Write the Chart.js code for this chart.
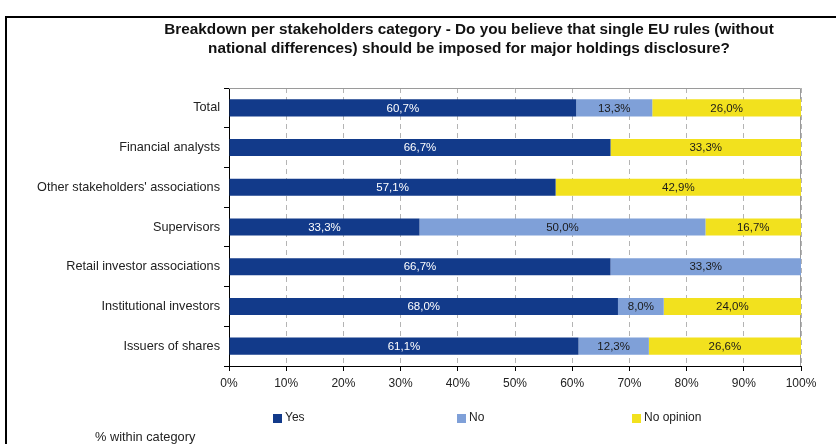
<!DOCTYPE html>
<html>
<head>
<meta charset="utf-8">
<title>Major holdings disclosure</title>
<script src="https://cdn.jsdelivr.net/npm/chart.js@4.4.0/dist/chart.umd.min.js"></script>
<style>
    body { margin: 0; background: #fff; }
    #wrap { position: relative; width: 836px; height: 444px; overflow: hidden; }
    #frame { position: absolute; left: 5px; top: 16px; width: 900px; height: 500px; border: 2px solid #000; box-sizing: border-box; }
    canvas { position: absolute; left: 0; top: 0; }
</style>
</head>
<body>
<div id="wrap">
    <div id="frame"></div>
    <canvas id="chart" width="836" height="444"></canvas>
</div>
<script>
const categories = [
    'Total',
    'Financial analysts',
    'Other stakeholders\' associations',
    'Supervisors',
    'Retail investor associations',
    'Institutional investors',
    'Issuers of shares'
]
const yesValues = [60.7, 66.7, 57.1, 33.3, 66.7, 68.0, 61.1]
const noValues = [13.3, 0, 0, 50.0, 33.3, 8.0, 12.3]
const noOpinionValues = [26.0, 33.3, 42.9, 16.7, 0, 24.0, 26.6]
const seriesNames = ['Yes', 'No', 'No opinion']
const titleLines = [
    'Breakdown per stakeholders category - Do you believe that single EU rules (without',
    'national differences) should be imposed for major holdings disclosure?'
]
const footNote = '% within category'

const FONT = '"Liberation Sans", Arial, sans-serif'
const colors = ['#123a8a', '#7fa0d8', '#f2e11e']
const labelColors = ['#ffffff', '#1a1a1a', '#1a1a1a']
const legendX = [273, 457, 632]

function pct(v) {
    return v.toFixed(1).replace('.', ',') + '%'
}

// frame of the plot, value labels, title, legend and note
const decorations = {
    id: 'decorations',
    beforeDatasetsDraw(chart) {
        const { ctx, chartArea: a } = chart
        ctx.save()
        ctx.strokeStyle = '#9a9a9a'
        ctx.lineWidth = 1
        ctx.beginPath()
        ctx.moveTo(a.left, a.top + 0.5)
        ctx.lineTo(a.right - 0.5, a.top + 0.5)
        ctx.lineTo(a.right - 0.5, a.bottom)
        ctx.stroke()
        ctx.restore()
    },
    afterDatasetsDraw(chart) {
        const ctx = chart.ctx
        ctx.save()
        ctx.font = '11.5px ' + FONT
        ctx.textAlign = 'center'
        ctx.textBaseline = 'middle'
        chart.data.datasets.forEach((ds, i) => {
            chart.getDatasetMeta(i).data.forEach((bar, j) => {
                const v = ds.data[j]
                if (!v) return
                ctx.fillStyle = labelColors[i]
                ctx.fillText(pct(v), (bar.x + bar.base) / 2, bar.y + 0.5)
            })
        })
        ctx.restore()
    },
    afterDraw(chart) {
        const ctx = chart.ctx
        ctx.save()
        ctx.fillStyle = '#111'
        ctx.font = 'bold 15.3px ' + FONT
        ctx.textAlign = 'center'
        ctx.textBaseline = 'middle'
        titleLines.forEach((line, i) => ctx.fillText(line, 469, 30 + i * 19))

        ctx.textAlign = 'left'
        ctx.font = '12px ' + FONT
        chart.data.datasets.forEach((ds, i) => {
            ctx.fillStyle = ds.backgroundColor
            ctx.fillRect(legendX[i], 414, 9, 9)
            ctx.fillStyle = '#222'
            ctx.fillText(ds.label, legendX[i] + 12, 418)
        })

        ctx.font = '12.8px ' + FONT
        ctx.fillText(footNote, 95, 437)
        ctx.restore()
    }
}

const chart = new Chart(document.getElementById('chart'), {
    type: 'bar',
    data: {
        labels: categories,
        datasets: [
            { label: seriesNames[0], data: yesValues, backgroundColor: colors[0] },
            { label: seriesNames[1], data: noValues, backgroundColor: colors[1] },
            { label: seriesNames[2], data: noOpinionValues, backgroundColor: colors[2] }
        ]
    },
    options: {
        indexAxis: 'y',
        responsive: false,
        animation: false,
        layout: { padding: { top: 88, right: 35, bottom: 48, left: 0 } },
        datasets: { bar: { barPercentage: 0.43, categoryPercentage: 1, borderWidth: 0 } },
        plugins: {
            legend: { display: false },
            tooltip: { enabled: false },
            title: { display: false }
        },
        scales: {
            x: {
                stacked: true,
                min: 0,
                max: 100,
                afterFit(scale) { scale.height = 30 },
                ticks: {
                    stepSize: 10,
                    callback: v => v + '%',
                    color: '#222',
                    font: { family: FONT, size: 12 },
                    padding: 5,
                    maxRotation: 0
                },
                grid: { color: '#b4b4b4', tickColor: '#000', tickLength: 5 },
                border: { color: '#000', dash: [5, 4] }
            },
            y: {
                stacked: true,
                afterFit(scale) { scale.width = 229 },
                ticks: {
                    color: '#222',
                    font: { family: FONT, size: 12.7 },
                    padding: 4
                },
                grid: { drawOnChartArea: false, tickColor: '#000', tickLength: 5, offset: true },
                border: { color: '#000' }
            }
        }
    },
    plugins: [decorations]
})
</script>
</body>
</html>
